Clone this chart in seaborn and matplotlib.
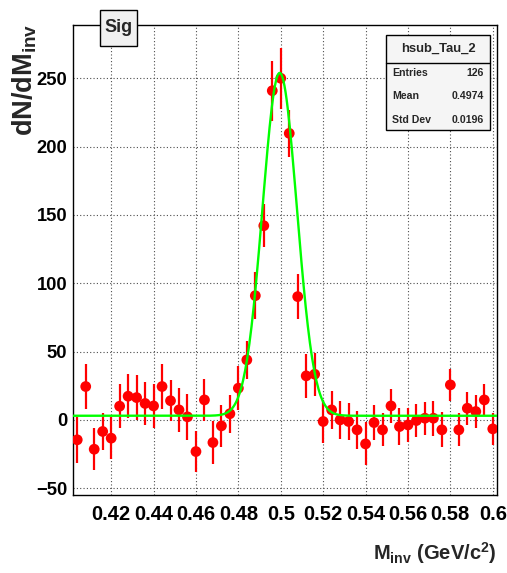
import numpy as np
import pandas as pd
import matplotlib
matplotlib.use("Agg")
import matplotlib.pyplot as plt
from matplotlib import font_manager as fm
from matplotlib.patches import Rectangle
from matplotlib.ticker import MultipleLocator, FixedLocator
import seaborn as sns

# ---------------- data ----------------
bin_centers = [0.404, 0.408, 0.412, 0.416, 0.420, 0.424, 0.428, 0.432, 0.436, 0.440,
               0.444, 0.448, 0.452, 0.456, 0.460, 0.464, 0.468, 0.472, 0.476, 0.480,
               0.484, 0.488, 0.492, 0.496, 0.500, 0.504, 0.508, 0.512, 0.516, 0.520,
               0.524, 0.528, 0.532, 0.536, 0.540, 0.544, 0.548, 0.552, 0.556, 0.560,
               0.564, 0.568, 0.572, 0.576, 0.580, 0.584, 0.588, 0.592, 0.596, 0.600]
counts = [-14.6, 24.4, -21.5, -8.5, -13.4, 10.0, 17.3, 16.3, 12.0, 10.2,
          24.4, 14.0, 7.3, 2.2, -23.2, 14.6, -16.6, -4.4, 4.5, 23.2,
          43.9, 90.9, 142.1, 240.9, 250.0, 209.7, 90.2, 32.2, 33.4, -1.2,
          7.3, 0.0, -1.2, -7.3, -17.6, -2.0, -7.3, 10.2, -4.9, -3.7,
          -0.5, 1.2, 1.2, -7.3, 25.6, -7.3, 8.5, 6.1, 14.6, -6.6]
errors = [17.0, 16.6, 15.2, 13.4, 15.2, 16.0, 16.2, 16.5, 15.8, 15.8,
          16.8, 15.2, 16.0, 16.8, 15.2, 15.2, 15.8, 15.5, 14.0, 16.0,
          14.0, 17.0, 15.8, 22.0, 22.5, 17.0, 16.4, 16.0, 15.8, 15.8,
          14.0, 14.0, 13.4, 14.0, 15.8, 12.8, 12.2, 12.5, 13.4, 12.2,
          11.8, 12.2, 12.8, 12.8, 11.8, 12.2, 12.2, 11.8, 11.8, 11.6]

# fit (gaussian + constant) parameters
fit_amp = 251.0
fit_mean = 0.4995
fit_sigma = 0.0081
fit_bg = 3.0

x_range = (0.402, 0.602)
y_range = (-55.0, 289.0)
x_ticks = [0.42, 0.44, 0.46, 0.48, 0.50, 0.52, 0.54, 0.56, 0.58, 0.60]
x_tick_labels = ['0.42', '0.44', '0.46', '0.48', '0.5', '0.52', '0.54', '0.56', '0.58', '0.6']
y_ticks = [-50, 0, 50, 100, 150, 200, 250]
y_tick_labels = ['\u221250', '0', '50', '100', '150', '200', '250']

hist_title = 'Sig'
stats_name = 'hsub_Tau_2'
stats_rows = [('Entries', '126'), ('Mean', '0.4974'), ('Std Dev', '0.0196')]

# ---------------- fonts ----------------
names = {f.name for f in fm.fontManager.ttflist}
if 'Liberation Sans Narrow' in names:
    NARROW, nscale = 'Liberation Sans Narrow', 1.15
else:
    NARROW, nscale = 'Liberation Sans', 1.0
WIDE = 'Liberation Sans'

sns.set_theme(style='white')
plt.rcParams['font.family'] = [NARROW, 'DejaVu Sans']
plt.rcParams['mathtext.default'] = 'regular'

W, H = 507, 573
fig = plt.figure(figsize=(W / 100, H / 100), dpi=100)
fig.patch.set_facecolor('white')
L, R, T, B = 73, 497, 25, 495
ax = fig.add_axes([L / W, 1 - B / H, (R - L) / W, (B - T) / H])
ax.set_facecolor('white')

df = pd.DataFrame({'x': bin_centers, 'y': counts, 'err': errors})

# grid
ax.set_xlim(*x_range)
ax.set_ylim(*y_range)
ax.xaxis.set_major_locator(FixedLocator(x_ticks))
ax.yaxis.set_major_locator(FixedLocator(y_ticks))
ax.xaxis.set_minor_locator(MultipleLocator(0.005))
ax.yaxis.set_minor_locator(MultipleLocator(10))
ax.grid(True, which='major', color='0.3', linestyle=(0, (1, 2)), linewidth=0.8)
ax.set_axisbelow(True)

# error bars + markers
ax.errorbar(df['x'], df['y'], yerr=df['err'], fmt='none', ecolor='#ff0000',
            elinewidth=1.6, capsize=0, zorder=3)
sns.scatterplot(data=df, x='x', y='y', ax=ax, color='#ff0000', s=60,
                edgecolor='none', marker='o', zorder=4, legend=False)

# fit curve
xf = np.linspace(x_range[0], x_range[1], 400)
yf = fit_bg + fit_amp * np.exp(-0.5 * ((xf - fit_mean) / fit_sigma) ** 2)
sns.lineplot(x=xf, y=yf, ax=ax, color='#00ff00', linewidth=1.7, zorder=5)

# axes style
for s in ax.spines.values():
    s.set_visible(True)
    s.set_color('black')
    s.set_linewidth(1.0)
ax.tick_params(axis='both', which='both', direction='in', colors='black',
               top=False, right=False, width=0.8)
ax.tick_params(axis='x', which='major', length=10, pad=7)
ax.tick_params(axis='x', which='minor', length=5)
ax.tick_params(axis='y', which='major', length=9, pad=4)
ax.tick_params(axis='y', which='minor', length=5)
ax.set_xticklabels(x_tick_labels, fontsize=14.5 * nscale, fontweight='bold', family=NARROW)
ax.set_yticklabels(y_tick_labels, fontsize=13.2 * nscale, fontweight='bold', family=NARROW)

ax.set_xlabel(r'M$_{inv}$ (GeV/c$^{2}$)', loc='right', fontsize=14.5 * nscale,
              fontweight='bold', family=NARROW, labelpad=12)
ax.set_ylabel('')
fig.text(25 / W, 1 - 24 / H, r'dN/dM$_{inv}$', rotation=90, ha='center', va='top',
         fontsize=19.5, fontweight='bold', family=WIDE)

# title box "Sig"
def px_rect(x0, y0, x1, y1, fc):
    r = Rectangle((x0 / W, 1 - y1 / H), (x1 - x0) / W, (y1 - y0) / H,
                  transform=fig.transFigure, facecolor=fc, edgecolor='black',
                  linewidth=1.0, zorder=10)
    fig.add_artist(r)

px_rect(100, 10, 137, 46, '#f0f0f0')
fig.text(118.5 / W, 1 - 28 / H, hist_title, ha='center', va='center',
         fontsize=13 * nscale, fontweight='bold', family=NARROW, zorder=11)

# stats box
px_rect(386, 35, 490, 130, '#f5f5f5')
sep = plt.Line2D([386 / W, 490 / W], [1 - 63 / H, 1 - 63 / H], transform=fig.transFigure,
                 color='black', linewidth=1.0, zorder=11)
fig.add_artist(sep)
fig.text(438 / W, 1 - 49 / H, stats_name, ha='center', va='center',
         fontsize=9.4 * nscale, fontweight='bold', family=NARROW, zorder=11)
for i, (k, v) in enumerate(stats_rows):
    yy = 1 - (73 + 23.3 * i) / H
    fig.text(392 / W, yy, k, ha='left', va='center', fontsize=7.6 * nscale,
             fontweight='bold', family=NARROW, zorder=11)
    fig.text(484 / W, yy, v, ha='right', va='center', fontsize=7.6 * nscale,
             fontweight='bold', family=NARROW, zorder=11)

fig.savefig('out.png', dpi=100)
